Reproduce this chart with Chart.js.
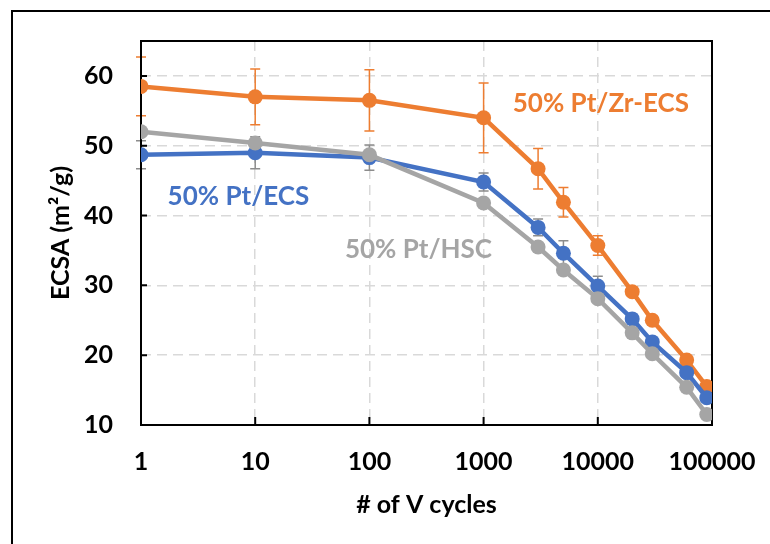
<!DOCTYPE html>
<html>
<head>
<meta charset="utf-8">
<script src="https://cdn.jsdelivr.net/npm/chart.js@4"></script>
<style>
  html, body { margin: 0; padding: 0; background: #fff; overflow: hidden; }
  #wrap { position: relative; width: 770px; height: 544px; }
  #frame { position: absolute; left: 11px; top: 10px; width: 800px; height: 600px; border: 2px solid #000; }
  canvas { position: absolute; left: 0; top: 0; }
</style>
</head>
<body>
<div id="wrap">
  <div id="frame"></div>
  <canvas id="chart" width="770" height="544"></canvas>
</div>
<script>
// Data
const cycles = [1, 10, 100, 1000, 3000, 5000, 10000, 20000, 30000, 60000, 90000];
const zrEcs = [58.5, 57.0, 56.5, 54.0, 46.7, 41.9, 35.7, 29.1, 25.0, 19.3, 15.5];
const zrEcsErr = [4.2, 4.0, 4.4, 5.0, 2.9, 2.1, 1.4, 0.6, 0.6, 0.6, 0.6];
const ecs = [48.7, 49.0, 48.3, 44.8, 38.3, 34.6, 29.9, 25.2, 21.9, 17.5, 13.9];
const ecsErr = [2.0, 2.3, 1.8, 1.3, 1.2, 1.8, 1.4, 0.5, 0.5, 0.5, 0.5];
const hsc = [52.0, 50.4, 48.7, 41.8, 35.5, 32.2, 28.1, 23.2, 20.2, 15.4, 11.5];
const xTicks = [1, 10, 100, 1000, 10000, 100000];
const yTicks = [10, 20, 30, 40, 50, 60];

const ORANGE = '#ED7D31';
const BLUE = '#4472C4';
const GRAY = '#A5A5A5';
const FONT = 'Lato, "Open Sans", sans-serif';

// series labels, placed in data space (left edge, baseline)
const seriesLabels = [
  { text: '50% Pt/Zr-ECS', x: 1800, y: 54.8, color: ORANGE },
  { text: '50% Pt/ECS', x: 1.71, y: 41.45, color: BLUE },
  { text: '50% Pt/HSC', x: 61, y: 33.9, color: GRAY }
];

function points(ys) {
  return cycles.map((c, i) => ({ x: c, y: ys[i] }));
}

function series(label, ys, color) {
  return {
    label: label,
    data: points(ys),
    borderColor: color,
    backgroundColor: color,
    borderWidth: 4.5,
    pointRadius: 7.5,
    pointHoverRadius: 7.5,
    pointBorderWidth: 0,
    tension: 0
  };
}

// error bars drawn under the series
const errorBars = {
  id: 'errorBars',
  beforeDatasetsDraw(chart) {
    const { ctx, scales: { x, y } } = chart;
    const sets = [
      { ys: zrEcs, err: zrEcsErr, color: ORANGE },
      { ys: ecs, err: ecsErr, color: '#8c8c8c' }
    ];
    ctx.save();
    ctx.lineWidth = 1.5;
    sets.forEach(s => {
      ctx.strokeStyle = s.color;
      cycles.forEach((c, i) => {
        const px = x.getPixelForValue(c);
        const top = y.getPixelForValue(s.ys[i] + s.err[i]);
        const bot = y.getPixelForValue(s.ys[i] - s.err[i]);
        ctx.beginPath();
        ctx.moveTo(px, top); ctx.lineTo(px, bot);
        ctx.moveTo(px - 5, top); ctx.lineTo(px + 5, top);
        ctx.moveTo(px - 5, bot); ctx.lineTo(px + 5, bot);
        ctx.stroke();
      });
    });
    ctx.restore();
  }
};

// plot frame, inward tick marks and series labels
const decorations = {
  id: 'decorations',
  beforeDatasetsDraw(chart) {
    const { ctx, chartArea: a, scales: { x, y } } = chart;
    ctx.save();
    ctx.strokeStyle = '#000';
    ctx.lineWidth = 2;
    ctx.strokeRect(a.left, a.top, a.right - a.left, a.bottom - a.top);
    ctx.beginPath();
    yTicks.forEach(v => {
      const py = y.getPixelForValue(v);
      ctx.moveTo(a.left, py); ctx.lineTo(a.left + 6, py);
    });
    xTicks.forEach(v => {
      const px = x.getPixelForValue(v);
      ctx.moveTo(px, a.bottom); ctx.lineTo(px, a.bottom - 8);
    });
    ctx.stroke();
    ctx.restore();
  },
  afterDatasetsDraw(chart) {
    const { ctx, scales: { x, y } } = chart;
    ctx.save();
    ctx.font = 'bold 26px ' + FONT;
    ctx.textBaseline = 'alphabetic';
    ctx.textAlign = 'left';
    seriesLabels.forEach(l => {
      ctx.fillStyle = l.color;
      ctx.fillText(l.text, x.getPixelForValue(l.x), y.getPixelForValue(l.y));
    });
    ctx.restore();
  }
};

new Chart(document.getElementById('chart'), {
  type: 'line',
  data: {
    datasets: [
      series('50% Pt/HSC', hsc, GRAY),
      series('50% Pt/ECS', ecs, BLUE),
      series('50% Pt/Zr-ECS', zrEcs, ORANGE)
    ]
  },
  options: {
    responsive: false,
    animation: false,
    events: [],
    layout: { padding: { top: 41, right: 58, left: 0, bottom: 0 } },
    plugins: { legend: { display: false }, tooltip: { enabled: false } },
    scales: {
      x: {
        type: 'logarithmic',
        min: 1,
        max: 100000,
        afterBuildTicks: s => { s.ticks = xTicks.map(v => ({ value: v })); },
        afterFit: s => { s.height = 119; s.paddingLeft = 0; s.paddingRight = 0; },
        grid: { color: '#d9d9d9', lineWidth: 1.5, drawTicks: false },
        border: { display: false, dash: [10, 6] },
        ticks: {
          padding: 22,
          color: '#000',
          font: { family: FONT, size: 25, weight: 'bold' },
          maxRotation: 0,
          callback: v => String(v)
        },
        title: {
          display: true,
          text: '# of V cycles',
          color: '#000',
          font: { family: FONT, size: 25, weight: 'bold' },
          padding: { top: 0, bottom: 24 }
        }
      },
      y: {
        min: 10,
        max: 65,
        afterBuildTicks: s => { s.ticks = yTicks.map(v => ({ value: v })); },
        afterFit: s => { s.width = 141; s.paddingTop = 0; s.paddingBottom = 0; },
        grid: { color: '#d9d9d9', lineWidth: 1.5, drawTicks: false },
        border: { display: false, dash: [10, 6] },
        ticks: {
          padding: 28,
          color: '#000',
          font: { family: FONT, size: 25, weight: 'bold' }
        },
        title: {
          display: true,
          text: 'ECSA (m²/g)',
          color: '#000',
          font: { family: FONT, size: 25, weight: 'bold' },
          padding: { top: 46, bottom: 0 }
        }
      }
    }
  },
  plugins: [errorBars, decorations]
});
</script>
</body>
</html>
